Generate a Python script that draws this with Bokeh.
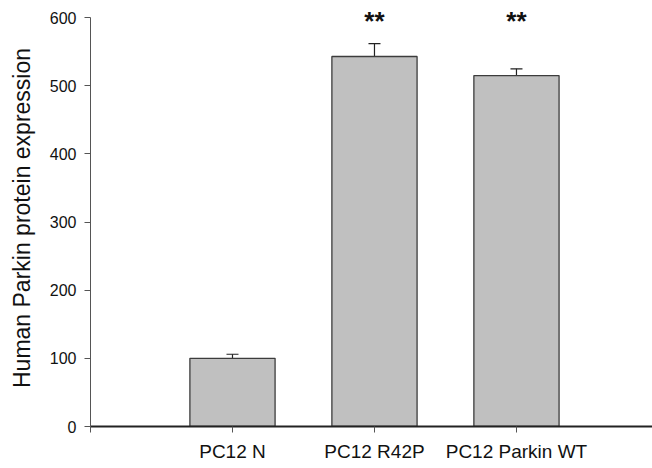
from bokeh.plotting import figure
from bokeh.models import Range1d, FixedTicker, Whisker, TeeHead, ColumnDataSource
from bokeh.core.properties import value
from bokeh.embed import file_html
from bokeh.resources import INLINE

categories = ["PC12 N", "PC12 R42P", "PC12 Parkin WT"]
expression = [100, 543, 515]
sem = [6, 19, 10]
significance = ["", "**", "**"]
y_ticks = [0, 100, 200, 300, 400, 500, 600]

xs = [i + 1 for i in range(len(categories))]
src = ColumnDataSource(dict(
    x=xs, top=expression,
    upper=[v + e for v, e in zip(expression, sem)],
    sig=significance, sig_y=[595] * len(categories),
))

p = figure(width=652, height=468, output_backend="svg", toolbar_location=None,
           x_range=Range1d(0, 3.958), y_range=Range1d(0, 612),
           min_border_left=90, min_border_right=0, min_border_top=9, min_border_bottom=42)
p.outline_line_color = None
p.grid.visible = False
p.background_fill_color = "white"
p.border_fill_color = "white"

p.vbar(x="x", top="top", width=0.6, bottom=0, source=src,
       fill_color="#c0c0c0", line_color="#3c3c3c", line_width=1.3)

w = Whisker(source=src, base="x", lower="top", upper="upper",
            line_color="#222222", line_width=1.2, lower_head=None,
            upper_head=TeeHead(size=12, line_color="#222222", line_width=1.2))
p.add_layout(w)

p.text(x="x", y="sig_y", text="sig", source=src, text_align="center",
       text_baseline="alphabetic", text_font=value("Liberation Sans"),
       text_font_style="bold", text_font_size="26px", text_color="#111111")

# y axis
ya = p.yaxis[0]
ya.ticker = FixedTicker(ticks=y_ticks)
ya.bounds = (0, 600)
ya.axis_label = "Human Parkin protein expression"
ya.axis_label_text_font = "Liberation Sans"
ya.axis_label_text_font_size = "23px"
ya.axis_label_text_font_style = "normal"
ya.axis_label_text_color = "#111111"
ya.axis_label_standoff = 12
ya.major_label_text_font = "Liberation Sans"
ya.major_label_text_font_size = "16px"
ya.major_label_text_color = "#111111"
ya.major_label_standoff = 8
ya.major_tick_out = 6
ya.major_tick_in = 0
ya.minor_tick_out = 0
ya.minor_tick_in = 0
ya.axis_line_color = "#555555"
ya.major_tick_line_color = "#555555"
ya.axis_line_width = 1

# x axis
xa = p.xaxis[0]
xa.ticker = FixedTicker(ticks=[0] + xs)
xa.major_label_overrides = {0: ""} | {x: c for x, c in zip(xs, categories)}
xa.major_label_text_font = "Liberation Sans"
xa.major_label_text_font_size = "19px"
xa.major_label_text_color = "#111111"
xa.major_label_standoff = 8
xa.major_tick_out = 6
xa.major_tick_in = 0
xa.minor_tick_out = 0
xa.minor_tick_in = 0
xa.axis_line_color = "#222222"
xa.axis_line_width = 2
xa.major_tick_line_color = "#555555"

open("out.html", "w").write(file_html(p, INLINE))
